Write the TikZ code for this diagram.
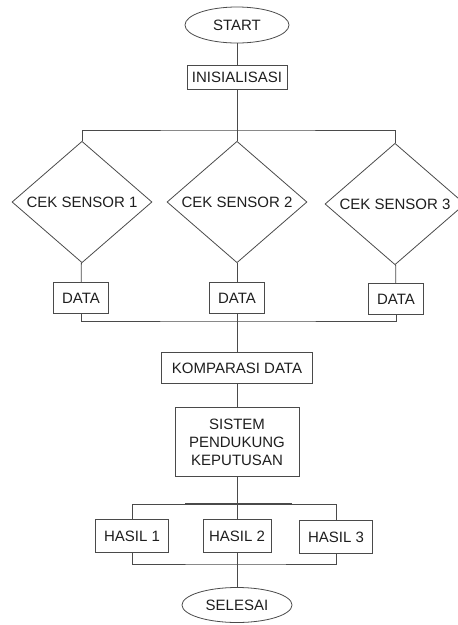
\documentclass[tikz,border=0pt]{standalone}
\usepackage{fontspec}
\setmainfont{Liberation Sans}
\usetikzlibrary{shapes.geometric}

\definecolor{garis}{HTML}{4A4A4A}
\definecolor{teks}{HTML}{1E1E1E}

\begin{document}
\begin{tikzpicture}[x=1pt,y=-1pt,color=garis,line width=0.8pt,
    every node/.style={text=teks,font=\fontsize{15}{18}\selectfont},
    terminal/.style={ellipse,draw,inner sep=0pt,minimum width=104pt,minimum height=36pt},
    proses/.style={rectangle,draw,inner sep=0pt,minimum height=31pt},
    cek/.style={diamond,draw,inner sep=0pt,minimum width=140pt,minimum height=118pt}]
    \useasboundingbox (0,0) rectangle (458,625);

    \node[terminal] (start) at (237,25) {START};
    \node[proses,minimum width=100pt,minimum height=24pt] (init) at (237,77) {INISIALISASI};

    % tiga cabang sensor
    \node[cek] (cek1) at (82,202) {CEK SENSOR 1};
    \node[cek] (cek2) at (237,202) {CEK SENSOR 2};
    \node[cek] (cek3) at (395,204) {CEK SENSOR 3};
    \node[proses,minimum width=55pt] (data1) at (81,298) {DATA};
    \node[proses,minimum width=55pt] (data2) at (237,298) {DATA};
    \node[proses,minimum width=55pt] (data3) at (396,299) {DATA};

    \node[proses,minimum width=151pt] (komparasi) at (237,368) {KOMPARASI DATA};
    \node[proses,minimum width=124pt,minimum height=69pt,align=center] (spk) at (237,442)
          {SISTEM\\PENDUKUNG\\KEPUTUSAN};

    % hasil
    \node[proses,minimum width=73pt,minimum height=33pt] (hasil1) at (132,536) {HASIL 1};
    \node[proses,minimum width=68pt,minimum height=33pt] (hasil2) at (237,536) {HASIL 2};
    \node[proses,minimum width=73pt,minimum height=33pt] (hasil3) at (336,537) {HASIL 3};
    \node[terminal,minimum width=110pt,minimum height=35pt] (selesai) at (237,605) {SELESAI};

    \coordinate (atas) at (237,130);
    \coordinate (bawahdata) at (237,321);
    \coordinate (atashasil) at (237,504);
    \coordinate (bawahhasil) at (237,564);
    \coordinate (tebalA) at (185,504);
    \coordinate (tebalB) at (292,504);

    \draw (start) -- (init);
    \draw (init) -- (atas);
    \draw (cek1.north) |- (atas) -| (cek3.north);
    \draw (atas) -- (cek2.north);
    \draw (cek1) -- (data1);
    \draw (cek2) -- (data2);
    \draw (cek3) -- (data3);
    \draw (data1.south) |- (bawahdata) -| (data3.south);
    \draw (data2) -- (komparasi);
    \draw (komparasi) -- (spk);
    \draw (spk) -- (hasil2);
    \draw (hasil1.north) |- (atashasil) -| (hasil3.north);
    \draw[line width=2pt] (tebalA) -- (tebalB);
    \draw (hasil1.south) |- (bawahhasil) -| (hasil3.south);
    \draw (hasil2) -- (selesai);
\end{tikzpicture}
\end{document}
